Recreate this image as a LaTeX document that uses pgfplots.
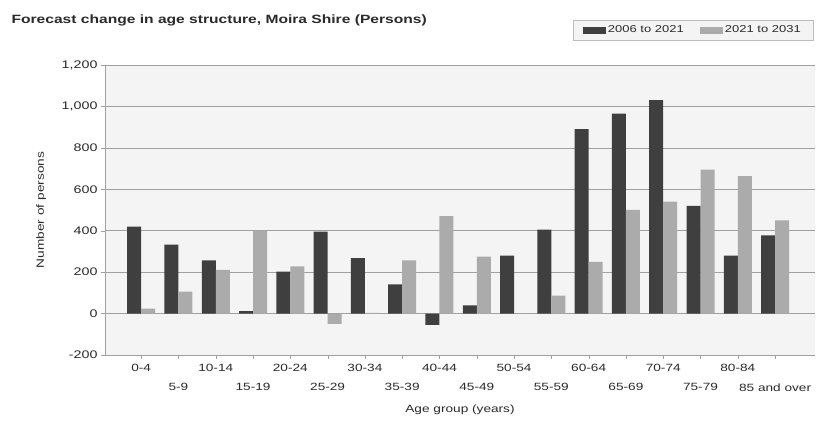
\documentclass[border=0pt]{standalone}
\usepackage{pgfplots}
\pgfplotsset{compat=1.18}
\usepackage{fontspec}
\setmainfont{Liberation Sans}[FakeStretch=1.3]
\definecolor{darkbar}{HTML}{3F3F3F}
\definecolor{lightbar}{HTML}{ABABAB}
\definecolor{gridc}{HTML}{A0A0A0}
\definecolor{plotbg}{HTML}{F4F4F4}
\definecolor{txt}{HTML}{2A2A2A}
\begin{document}
\begin{tikzpicture}
\fill[white] (-105pt,-68pt) rectangle (726pt,355pt);
\path[use as bounding box] (-105pt,-68pt) rectangle (726pt,355pt);
\begin{axis}[
  at={(0pt,0pt)}, anchor=south west,
  scale only axis, width=710pt, height=290pt,
  ymin=-200, ymax=1200, ytick={-200,0,200,400,600,800,1000,1200},
  xmin=-0.97, xmax=18.07,
  xtick={0,2,...,16},
  xticklabels={0-4,10-14,20-24,30-34,40-44,50-54,60-64,70-74,80-84},
  extra x ticks={1,3,...,17},
  extra x tick labels={5-9,15-19,25-29,35-39,45-49,55-59,65-69,75-79,85 and over},
  extra x tick style={xticklabel style={yshift=-19pt}},
  xticklabel style={yshift=-2pt, font=\fontsize{10.5}{13}\selectfont, text=txt},
  yticklabel style={font=\fontsize{11}{13}\selectfont, text=txt},
  /pgf/number format/assume math mode=true,
  /pgf/number format/1000 sep={,},
  ybar=0pt, bar width=14pt,
  axis lines*=left,
  axis line style={gridc},
  tick style={gridc},
  tick align=outside,
  major tick length=4pt,
  ymajorgrids, grid style={gridc, line width=0.6pt},
  axis background/.style={fill=plotbg},
  ylabel={Number of persons},
  ylabel style={at={(axis description cs:-0.09,0.5)}, anchor=center, font=\fontsize{10.5}{12}\selectfont, text=txt},
  xlabel={Age group (years)},
  xlabel style={at={(axis description cs:0.5,-0.19)}, anchor=center, font=\fontsize{10.5}{12}\selectfont, text=txt},
  legend columns=2,
  legend style={at={(0.828,1.12)}, anchor=center, draw=gridc!70, fill=plotbg,
    font=\fontsize{10}{12}\selectfont, text=txt, inner xsep=10pt, inner ysep=4pt,
    /tikz/every even column/.append style={column sep=14pt}},
  legend image code/.code={\fill[#1] (0pt,-3.5pt) rectangle (23pt,3.5pt);},
]
\addplot[fill=darkbar, draw=none] coordinates {
(0,420) (1,333) (2,257) (3,12) (4,203) (5,395) (6,268) (7,141) (8,-55)
(9,40) (10,280) (11,405) (12,890) (13,965) (14,1030) (15,520) (16,280) (17,377)};
\addlegendentry{2006 to 2021}
\addplot[fill=lightbar, draw=none] coordinates {
(0,24) (1,106) (2,211) (3,400) (4,228) (5,-50) (6,3) (7,257) (8,470)
(9,275) (10,0) (11,87) (12,250) (13,500) (14,540) (15,695) (16,663) (17,450)};
\addlegendentry{2021 to 2031}
\end{axis}
\node[anchor=west, font=\fontsize{12}{14}\bfseries\selectfont, text=txt] at (-97pt,335pt) {Forecast change in age structure, Moira Shire (Persons)};
\end{tikzpicture}
\end{document}
